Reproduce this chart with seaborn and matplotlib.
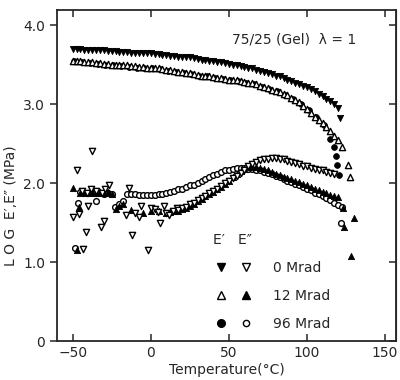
import numpy as np
import pandas as pd
import matplotlib.pyplot as plt
import seaborn as sns
from matplotlib.lines import Line2D
from matplotlib.legend_handler import HandlerTuple

sns.set_style("ticks")
plt.rcParams['font.family'] = ['DejaVu Sans']

# E' storage modulus, 0 Mrad (filled down triangles)
temp_e1_0 = [-50, -47.5, -45, -42.5, -40, -37.5, -35, -32.5, -30, -27.5,
             -25, -22.5, -20, -17.5, -15, -12.5, -10, -7.5, -5, -2.5,
             0, 2.5, 5, 7.5, 10, 12.5, 15, 17.5, 20, 22.5,
             25, 27.5, 30, 32.5, 35, 37.5, 40, 42.5, 45, 47.5,
             50, 52.5, 55, 57.5, 60, 62.5, 65, 67.5, 70, 72.5,
             75, 77.5, 80, 82.5, 85, 87.5, 90, 92.5, 95, 97.5,
             100, 102.5, 105, 107.5, 110, 112.5, 115, 117.5, 120, 121]
e1_0 = [3.70, 3.70, 3.70, 3.69, 3.69, 3.69, 3.68, 3.68, 3.68, 3.67,
        3.67, 3.67, 3.66, 3.66, 3.66, 3.65, 3.65, 3.65, 3.64, 3.64,
        3.64, 3.63, 3.63, 3.62, 3.62, 3.61, 3.61, 3.60, 3.60, 3.59,
        3.59, 3.58, 3.57, 3.56, 3.56, 3.55, 3.54, 3.53, 3.53, 3.52,
        3.51, 3.50, 3.49, 3.48, 3.47, 3.46, 3.45, 3.43, 3.42, 3.41,
        3.39, 3.38, 3.36, 3.35, 3.33, 3.31, 3.29, 3.27, 3.25, 3.23,
        3.21, 3.19, 3.16, 3.13, 3.10, 3.07, 3.04, 3.00, 2.95, 2.82]

# E', 12 Mrad (open up triangles)
temp_e1_12 = [-50, -47.5, -45, -42.5, -40, -37.5, -35, -32.5, -30, -27.5,
              -25, -22.5, -20, -17.5, -15, -12.5, -10, -7.5, -5, -2.5,
              0, 2.5, 5, 7.5, 10, 12.5, 15, 17.5, 20, 22.5,
              25, 27.5, 30, 32.5, 35, 37.5, 40, 42.5, 45, 47.5,
              50, 52.5, 55, 57.5, 60, 62.5, 65, 67.5, 70, 72.5,
              75, 77.5, 80, 82.5, 85, 87.5, 90, 92.5, 95, 97.5,
              100, 102.5, 105, 107.5, 110, 112.5, 115, 117.5, 120,
              122.5, 126, 127.5]
e1_12 = [3.55, 3.54, 3.54, 3.53, 3.53, 3.53, 3.52, 3.52, 3.51, 3.51,
         3.50, 3.50, 3.50, 3.49, 3.49, 3.48, 3.48, 3.47, 3.47, 3.46,
         3.46, 3.45, 3.45, 3.44, 3.43, 3.43, 3.42, 3.41, 3.40, 3.39,
         3.39, 3.38, 3.37, 3.36, 3.36, 3.35, 3.34, 3.33, 3.33, 3.32,
         3.31, 3.30, 3.30, 3.29, 3.28, 3.27, 3.26, 3.25, 3.23, 3.22,
         3.20, 3.18, 3.17, 3.15, 3.13, 3.11, 3.08, 3.05, 3.02, 2.98,
         2.94, 2.89, 2.84, 2.80, 2.76, 2.71, 2.66, 2.60, 2.54,
         2.46, 2.23, 2.08]

# E', 96 Mrad (filled circles)
temp_e1_96 = [-49, -44, -39, -34, -29, -24, -19, -14, -9, -4,
              1, 6, 11, 16, 21, 26, 31, 36, 41, 46,
              51, 56, 61, 66, 71, 76, 81, 86, 91, 96,
              101, 106, 111, 115, 117, 118.5, 119.5, 120.5]
e1_96 = [3.54, 3.53, 3.52, 3.51, 3.50, 3.49, 3.48, 3.47, 3.46, 3.45,
         3.45, 3.44, 3.42, 3.41, 3.39, 3.38, 3.36, 3.35, 3.33, 3.32,
         3.30, 3.29, 3.27, 3.25, 3.22, 3.19, 3.16, 3.11, 3.06, 3.00,
         2.92, 2.83, 2.73, 2.56, 2.45, 2.34, 2.23, 2.10]

# E'' loss modulus, 0 Mrad (open down triangles)
temp_e2_0 = [-50, -47.4, -45.7, -44, -43.6, -41.5, -41, -40, -38, -37.5,
             -35, -32, -31, -30, -29, -26.4, -16, -13.8, -12, -10,
             -7.5, -6, -2, 0, 2.5, 4.5, 6, 8.6, 10, 12, 14, 16.5,
             17.5, 20, 22.5, 25, 27.5, 30, 32.5, 35, 37.5, 40,
             42.5, 45, 47.5, 50, 52.5, 55, 57.5, 60, 62.5, 65,
             67.5, 70, 72.5, 75, 77.5, 80, 82.5, 85, 87.5, 90,
             92.5, 95, 97.5, 100, 102.5, 105, 107.5, 110, 112.5, 115,
             117.5]
e2_0 = [1.57, 2.16, 1.61, 1.90, 1.16, 1.38, 1.88, 1.71, 1.92, 2.40,
        1.90, 1.44, 1.88, 1.52, 1.93, 1.97, 1.59, 1.94, 1.34, 1.62,
        1.57, 1.71, 1.15, 1.68, 1.67, 1.63, 1.49, 1.71, 1.62, 1.60, 1.65, 1.68,
        1.66, 1.68, 1.70, 1.73, 1.75, 1.78, 1.81, 1.84, 1.87, 1.90,
        1.93, 1.96, 2.00, 2.03, 2.06, 2.09, 2.13, 2.17, 2.21, 2.24,
        2.27, 2.29, 2.30, 2.31, 2.32, 2.32, 2.31, 2.30, 2.28, 2.27,
        2.25, 2.24, 2.22, 2.21, 2.19, 2.18, 2.17, 2.16, 2.14, 2.13,
        2.12]

# E'', 12 Mrad (filled up triangles)
temp_e2_12 = [-50, -47, -45.7, -45, -42.5, -40, -37.5, -35, -32.5, -30,
              -27.5, -25, -22.5, -20, -17.5, -12.5, -5, 0, 5, 10, 12.5,
              15, 17.5, 20, 22.5, 25, 27.5, 30, 32.5, 35, 37.5,
              40, 42.5, 45, 47.5, 50, 52.5, 55, 57.5, 60, 62.5,
              65, 67.5, 70, 72.5, 75, 77.5, 80, 82.5, 85, 87.5,
              90, 92.5, 95, 97.5, 100, 102.5, 105, 107.5, 110, 112.5,
              115, 117.5, 120, 123, 124, 128, 130]
e2_12 = [1.94, 1.15, 1.70, 1.87, 1.89, 1.87, 1.89, 1.88, 1.89, 1.87,
         1.89, 1.86, 1.67, 1.71, 1.74, 1.66, 1.62, 1.65, 1.64, 1.62, 1.63,
         1.64, 1.65, 1.67, 1.69, 1.71, 1.74, 1.77, 1.80, 1.83, 1.86,
         1.89, 1.92, 1.95, 1.99, 2.03, 2.07, 2.11, 2.15, 2.18, 2.20,
         2.20, 2.20, 2.19, 2.18, 2.16, 2.14, 2.12, 2.10, 2.08, 2.06,
         2.05, 2.03, 2.01, 1.99, 1.97, 1.95, 1.93, 1.91, 1.89, 1.87,
         1.85, 1.83, 1.82, 1.68, 1.44, 1.08, 1.56]

# E'', 96 Mrad (open circles)
temp_e2_96 = [-48.4, -46.7, -45, -42.5, -40, -37.5, -35, -35, -32.5, -30,
              -27.5, -25, -23, -20, -18,
              -15, -12.5, -10, -7.5, -5, -2.5, 0, 2.5, 5, 7.5,
              10, 12.5, 15, 17.5, 20, 22.5, 25, 27.5, 30, 32.5,
              35, 37.5, 40, 42.5, 45, 47.5, 50, 52.5, 55, 57.5,
              60, 62.5, 65, 67.5, 70, 72.5, 75, 77.5, 80, 82.5,
              85, 87.5, 90, 92.5, 95, 97.5, 100, 102.5, 105, 107.5,
              110, 112.5, 115, 117.5, 120, 122.5, 122]
e2_96 = [1.18, 1.75, 1.89, 1.88, 1.88, 1.87, 1.77, 1.87, 1.87, 1.86,
         1.87, 1.86, 1.70, 1.74, 1.77,
         1.86, 1.86, 1.86, 1.85, 1.85, 1.85, 1.85, 1.85, 1.86, 1.86,
         1.87, 1.89, 1.90, 1.92, 1.93, 1.95, 1.97, 1.98, 2.00, 2.02,
         2.05, 2.07, 2.10, 2.12, 2.14, 2.16, 2.17, 2.18, 2.19, 2.19,
         2.19, 2.18, 2.18, 2.17, 2.16, 2.14, 2.13, 2.11, 2.09, 2.07,
         2.05, 2.03, 2.01, 1.99, 1.97, 1.95, 1.93, 1.91, 1.88, 1.86,
         1.84, 1.81, 1.78, 1.75, 1.72, 1.70, 1.49]

doses = ['0 Mrad', '12 Mrad', '96 Mrad']
x_ticks = [-50, 0, 50, 100, 150]
y_ticks = [0, 1, 2, 3, 4]
y_ticklabels = ['0', '1.0', '2.0', '3.0', '4.0']

MS_TRI = 20
MS_CIR = 17

fig = plt.figure(figsize=(4.0, 3.8), dpi=100)
ax = fig.add_axes([0.1425, 0.1026, 0.8475, 0.871])

def filled(x, y, marker, s):
    sns.scatterplot(x=x, y=y, marker=marker, s=s, color='black',
                    edgecolor='black', linewidth=0.6, ax=ax)

def hollow(x, y, marker, s):
    sns.scatterplot(x=x, y=y, marker=marker, s=s, color='white',
                    edgecolor='black', linewidth=1.0, ax=ax)

hollow(temp_e2_96, e2_96, 'o', MS_CIR)
filled(temp_e2_12, e2_12, '^', MS_TRI)
hollow(temp_e2_0, e2_0, 'v', MS_TRI)
filled(temp_e1_96, e1_96, 'o', MS_CIR)
hollow(temp_e1_12, e1_12, '^', MS_TRI)
filled(temp_e1_0, e1_0, 'v', MS_TRI)

ax.set_xlim(-60, 157)
ax.set_ylim(0, 4.19)
ax.set_xticks(x_ticks)
ax.set_yticks(y_ticks)
ax.set_yticklabels(y_ticklabels)
ax.tick_params(axis='x', direction='in', top=True, length=5, width=1.1, labelsize=10)
ax.tick_params(axis='y', direction='out', right=False, length=5, width=1.1, labelsize=10)
sec = ax.secondary_yaxis('right')
sec.set_yticks(y_ticks)
sec.tick_params(direction='in', length=5, width=1.1, labelright=False)
for sp in ax.spines.values():
    sp.set_linewidth(1.3)
    sp.set_visible(True)

ax.set_xlabel('Temperature(°C)', fontsize=10, labelpad=2)
ax.set_ylabel('L O G  E′,E″ (MPa)', fontsize=10)
ax.yaxis.set_label_coords(-0.115, 0.41)

ax.text(92, 3.82, '75/25 (Gel)  λ = 1', fontsize=10, ha='center', va='center')

handles = [
    (Line2D([], [], ls='', marker='v', ms=5.5, mfc='k', mec='k'),
     Line2D([], [], ls='', marker='v', ms=5.5, mfc='w', mec='k', mew=1.0)),
    (Line2D([], [], ls='', marker='^', ms=5.5, mfc='w', mec='k', mew=1.0),
     Line2D([], [], ls='', marker='^', ms=5.5, mfc='k', mec='k')),
    (Line2D([], [], ls='', marker='o', ms=5.5, mfc='k', mec='k'),
     Line2D([], [], ls='', marker='o', ms=4.5, mfc='w', mec='k', mew=1.0)),
]
leg = ax.legend(handles, doses, handler_map={tuple: HandlerTuple(ndivide=None, pad=0.6)},
                title='E′   E″', alignment='left', frameon=False,
                loc='lower left', bbox_to_anchor=(0.46, 0.03),
                handlelength=3.0, handletextpad=1.35, labelspacing=1.0,
                borderaxespad=0, borderpad=0, fontsize=10, title_fontsize=10)

plt.savefig('out.png', dpi=100)
plt.close()
